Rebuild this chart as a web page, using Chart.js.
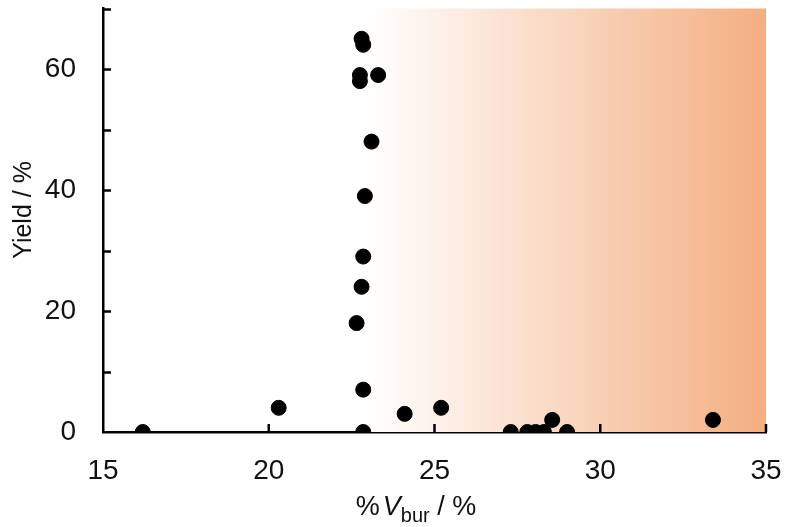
<!DOCTYPE html>
<html>
<head>
<meta charset="utf-8">
<script src="https://cdn.jsdelivr.net/npm/chart.js@4"></script>
<style>
  html, body { margin: 0; padding: 0; background: #fff; }
  #wrap { width: 789px; height: 527px; position: relative; }
</style>
</head>
<body>
<div id="wrap"><canvas id="c"></canvas></div>
<script>
// %Vbur vs yield
const vbur = [16.2, 20.3, 22.8, 22.85, 22.75, 22.75, 23.3, 23.1, 22.9, 22.85, 22.8, 22.65, 22.85, 22.85, 24.1, 25.2, 27.3, 27.8, 28.05, 28.3, 28.55, 29.0, 33.4];
const yieldPct = [0, 4, 65, 64, 59, 58, 59, 48, 39, 29, 24, 18, 7, 0, 3, 4, 0, 0, 0, 0, 2, 0, 2];
const xTicks = [15, 20, 25, 30, 35];
const yTicks = [0, 20, 40, 60];
const shadeFrom = 23, shadeTo = 35;   // 網掛け範囲

const FONT = '"Liberation Sans", Arial, sans-serif';
const TXT = '#111';

const shade = {
  id: 'shade',
  beforeDatasetsDraw(ch) {
    const { ctx, scales: { x, y } } = ch;
    const x0 = x.getPixelForValue(shadeFrom), x1 = x.getPixelForValue(shadeTo);
    const top = y.getPixelForValue(y.max), bot = y.getPixelForValue(0);
    const g = ctx.createLinearGradient(x0, 0, x1, 0);
    g.addColorStop(0, 'rgba(255,255,255,1)');
    g.addColorStop(1, '#F3AE80');
    ctx.save(); ctx.fillStyle = g; ctx.fillRect(x0, top, x1 - x0, bot - top); ctx.restore();
  },
};

// 内向きの目盛りと軸タイトル
const deco = {
  id: 'deco',
  afterDraw(ch) {
    const { ctx, scales: { x, y }, chartArea: a } = ch;
    ctx.save();
    ctx.strokeStyle = '#000'; ctx.lineWidth = 2.5;
    for (let v = 10; v <= 70; v += 10) {
      const py = Math.round(y.getPixelForValue(v)) + 0.5;
      ctx.beginPath(); ctx.moveTo(a.left, py); ctx.lineTo(a.left + 8, py); ctx.stroke();
    }
    for (let v = 20; v <= 35; v += 5) {
      const px = x.getPixelForValue(v);
      ctx.beginPath(); ctx.moveTo(px, a.bottom); ctx.lineTo(px, a.bottom - 8); ctx.stroke();
    }
    // x title: %Vbur / %  [text, font, baseline shift, gap before]
    ctx.fillStyle = TXT; ctx.textBaseline = 'alphabetic';
    const parts = [['%', `27px ${FONT}`, 0, 0], ['V', `italic 27px ${FONT}`, 0, 3], ['bur', `20px ${FONT}`, 7, 0], [' / %', `27px ${FONT}`, 0, 0]];
    let w = 0;
    parts.forEach(p => { ctx.font = p[1]; w += ctx.measureText(p[0]).width + p[3]; });
    let cx = 416 - w / 2;
    parts.forEach(p => { ctx.font = p[1]; cx += p[3]; ctx.fillText(p[0], cx, 515 + p[2]); cx += ctx.measureText(p[0]).width; });
    // y title
    ctx.translate(24, 210); ctx.rotate(-Math.PI / 2);
    ctx.font = `25px ${FONT}`; ctx.textAlign = 'center'; ctx.textBaseline = 'middle';
    ctx.fillText('Yield / %', 0, 0);
    ctx.restore();
  },
};

new Chart(document.getElementById('c'), {
  type: 'scatter',
  data: {
    datasets: [{
      data: vbur.map((v, i) => ({ x: v, y: yieldPct[i] })),
      backgroundColor: '#000', borderColor: '#000', pointRadius: 7.5, pointHoverRadius: 7.5,
    }],
  },
  options: {
    responsive: true, maintainAspectRatio: false, animation: false,
    layout: { padding: { top: 7, right: 23, left: 0, bottom: 0 } },
    plugins: { legend: { display: false }, tooltip: { enabled: false } },
    scales: {
      x: {
        type: 'linear', min: 15, max: 35,
        afterBuildTicks: s => { s.ticks = xTicks.map(v => ({ value: v })); },
        afterFit: s => { s.height = 95; s.paddingLeft = 0; s.paddingRight = 0; },
        grid: { display: false, drawTicks: false },
        border: { display: true, color: '#000', width: 2.5 },
        ticks: { padding: 22, color: TXT, font: { family: FONT, size: 28 } },
      },
      y: {
        type: 'linear', min: 0, max: 70,
        afterBuildTicks: s => { s.ticks = yTicks.map(v => ({ value: v })); },
        afterFit: s => { s.width = 103; s.paddingTop = 0; s.paddingBottom = 0; },
        grid: { display: false, drawTicks: false },
        border: { display: true, color: '#000', width: 2.5 },
        ticks: { padding: 27, color: TXT, font: { family: FONT, size: 28 } },
      },
    },
  },
  plugins: [shade, deco],
});
</script>
</body>
</html>
